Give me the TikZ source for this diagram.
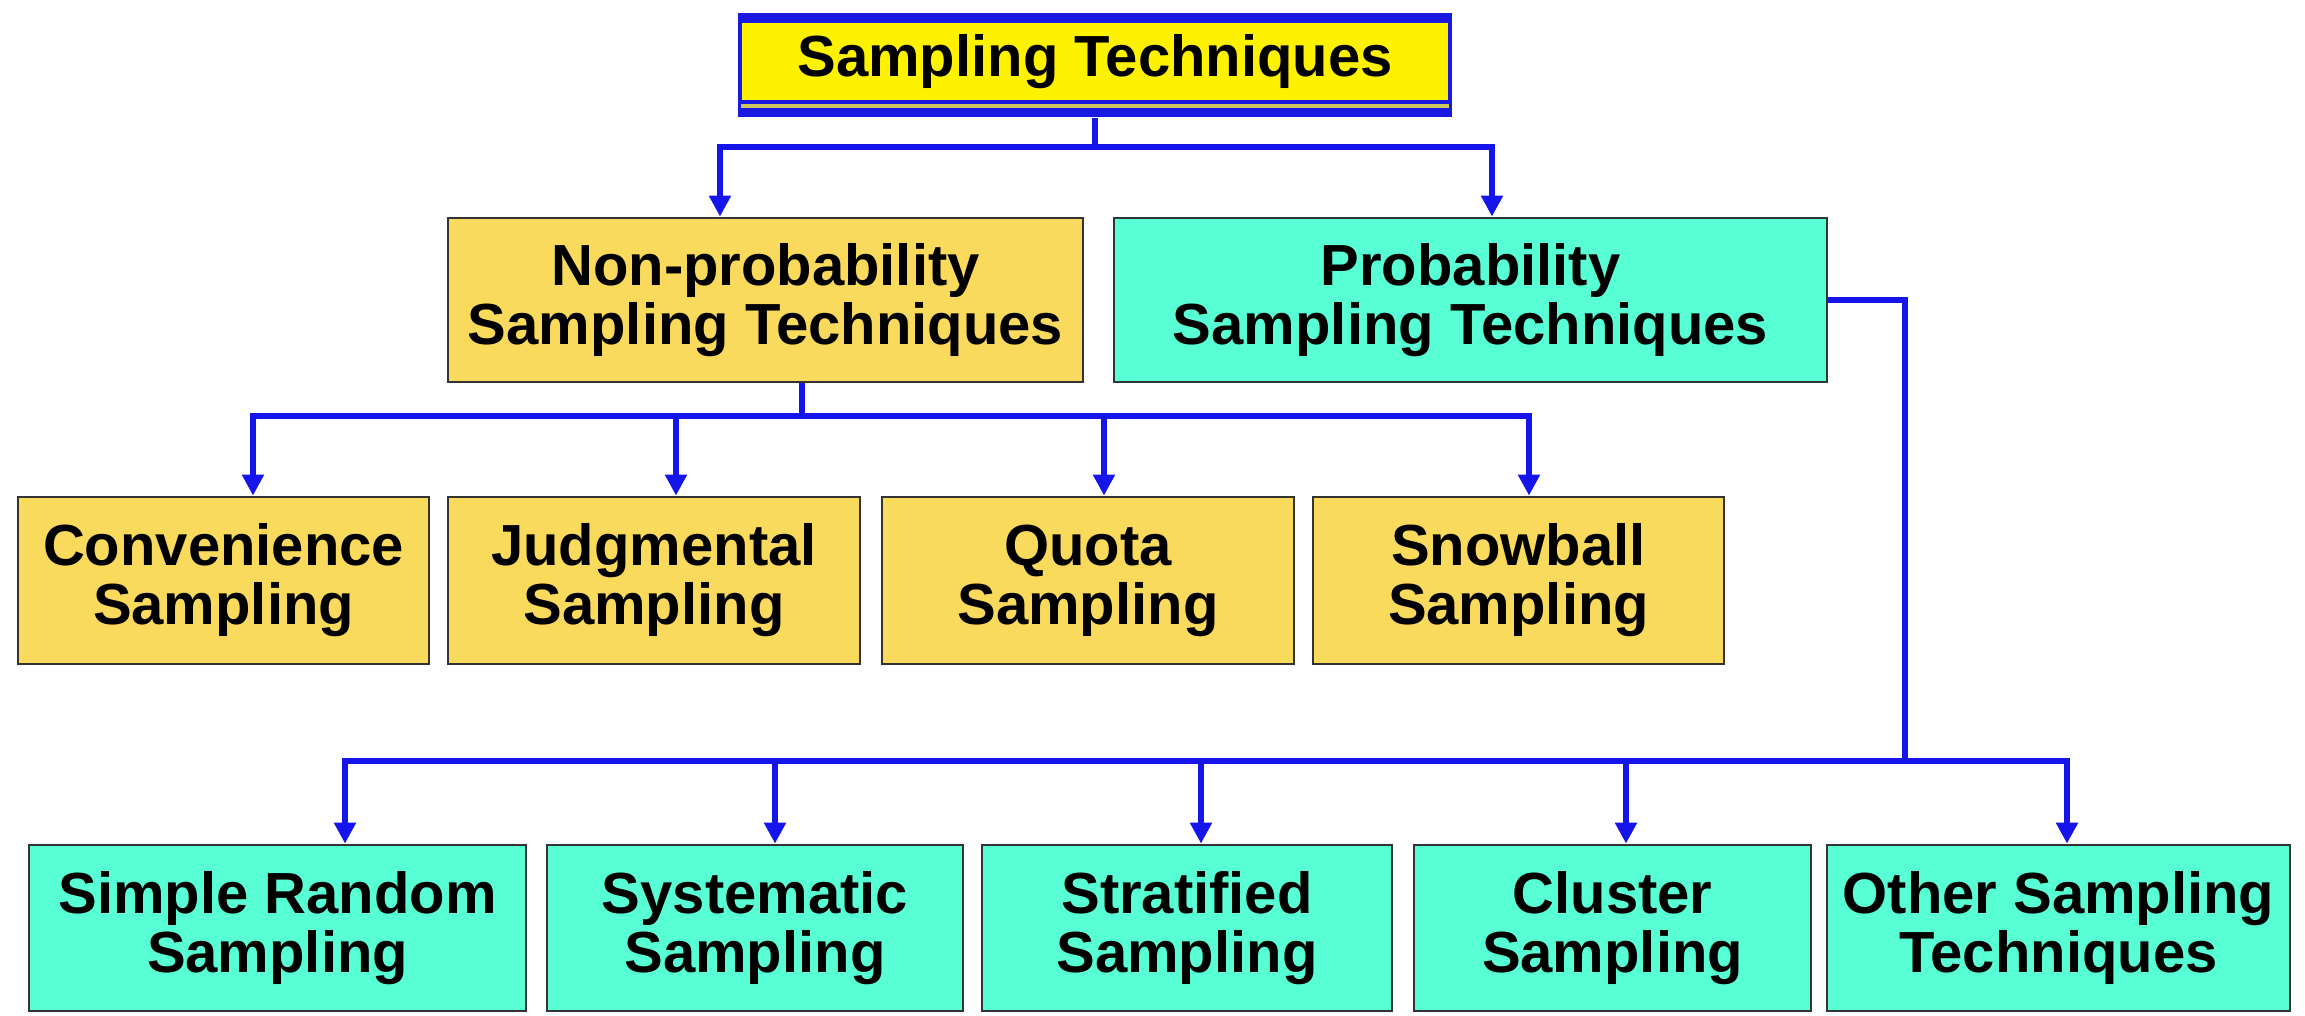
\documentclass[tikz,border=0pt]{standalone}
\usepackage{fontspec}
\setmainfont{Liberation Sans}
\usetikzlibrary{arrows.meta}
\definecolor{linkblue}{RGB}{20,20,235}
\definecolor{frameblue}{RGB}{25,25,225}
\definecolor{nongold}{RGB}{250,218,92}
\definecolor{probaqua}{RGB}{88,255,212}
\begin{document}
\begin{tikzpicture}[
  box/.style={draw=black!80, line width=0.8pt, align=center, inner sep=2pt,
    font=\fontsize{16.5}{16.8}\selectfont\bfseries},
  nonbox/.style={box, fill=nongold},
  probbox/.style={box, fill=probaqua},
  link/.style={draw=linkblue, line width=1.8pt},
  arrow/.style={link, -{Triangle[width=6pt,length=6pt]}}
]
  \useasboundingbox (0,0) rectangle (23.05,-10.15);
  % title: blue frame round a yellow panel
  \node[fill=frameblue, inner sep=0pt, minimum width=7.14cm, minimum height=1.04cm] (frame) at (10.95,-0.65) {};
  \node[box, draw=none, fill=yellow, minimum width=7.06cm, minimum height=0.77cm] (title) at (10.95,-0.615) {Sampling Techniques};
  \draw[line width=1pt, yellow!55!gray] ([yshift=-0.045cm]title.south west) -- ([yshift=-0.045cm]title.south east);

  % the two families
  \node[nonbox, minimum width=6.35cm, minimum height=1.64cm] (nonprob) at (7.655,-3.0) {Non-probability\\Sampling Techniques};
  \node[probbox, minimum width=7.13cm, minimum height=1.64cm] (prob) at (14.705,-3.0) {Probability\\Sampling Techniques};

  % non-probability methods
  \node[nonbox, minimum width=4.11cm, minimum height=1.67cm] (conv) at (2.235,-5.805) {Convenience\\Sampling};
  \node[nonbox, minimum width=4.12cm, minimum height=1.67cm] (judg) at (6.54,-5.805) {Judgmental\\Sampling};
  \node[nonbox, minimum width=4.12cm, minimum height=1.67cm] (quota) at (10.88,-5.805) {Quota\\Sampling};
  \node[nonbox, minimum width=4.11cm, minimum height=1.67cm] (snow) at (15.185,-5.805) {Snowball\\Sampling};

  % probability methods
  \node[probbox, minimum width=4.97cm, minimum height=1.66cm] (simple) at (2.775,-9.28) {Simple Random\\Sampling};
  \node[probbox, minimum width=4.16cm, minimum height=1.66cm] (syst) at (7.55,-9.28) {Systematic\\Sampling};
  \node[probbox, minimum width=4.10cm, minimum height=1.66cm] (strat) at (11.87,-9.28) {Stratified\\Sampling};
  \node[probbox, minimum width=3.97cm, minimum height=1.66cm] (cluster) at (16.125,-9.28) {Cluster\\Sampling};
  \node[probbox, minimum width=4.63cm, minimum height=1.66cm] (other) at (20.585,-9.28) {Other Sampling\\Techniques};

  % links from the title
  \coordinate (t1) at (7.2,-1.47);
  \coordinate (t2) at (14.92,-1.47);
  \draw[arrow] (frame.south) |- (t1) -- (t1 |- nonprob.north);
  \draw[arrow] (frame.south) |- (t2) -- (t2 |- prob.north);

  % links to the non-probability methods
  \coordinate (n0) at (8.02,-4.16);
  \coordinate (n1) at (2.53,-4.16);
  \coordinate (n2) at (6.76,-4.16);
  \coordinate (n3) at (11.04,-4.16);
  \coordinate (n4) at (15.29,-4.16);
  \draw[link] (n0 |- nonprob.south) -- (n0);
  \draw[arrow] (n0) -| (n1 |- conv.north);
  \draw[arrow] (n0) -| (n2 |- judg.north);
  \draw[arrow] (n0) -| (n3 |- quota.north);
  \draw[arrow] (n0) -| (n4 |- snow.north);

  % links to the probability methods
  \coordinate (p0) at (19.05,-7.61);
  \coordinate (p1) at (3.45,-7.61);
  \coordinate (p2) at (7.75,-7.61);
  \coordinate (p3) at (12.01,-7.61);
  \coordinate (p4) at (16.26,-7.61);
  \coordinate (p5) at (20.67,-7.61);
  \draw[link] (prob.east) -| (p0);
  \draw[arrow] (p0) -| (p1 |- simple.north);
  \draw[arrow] (p0) -| (p2 |- syst.north);
  \draw[arrow] (p0) -| (p3 |- strat.north);
  \draw[arrow] (p0) -| (p4 |- cluster.north);
  \draw[arrow] (p0) -| (p5 |- other.north);
\end{tikzpicture}
\end{document}
